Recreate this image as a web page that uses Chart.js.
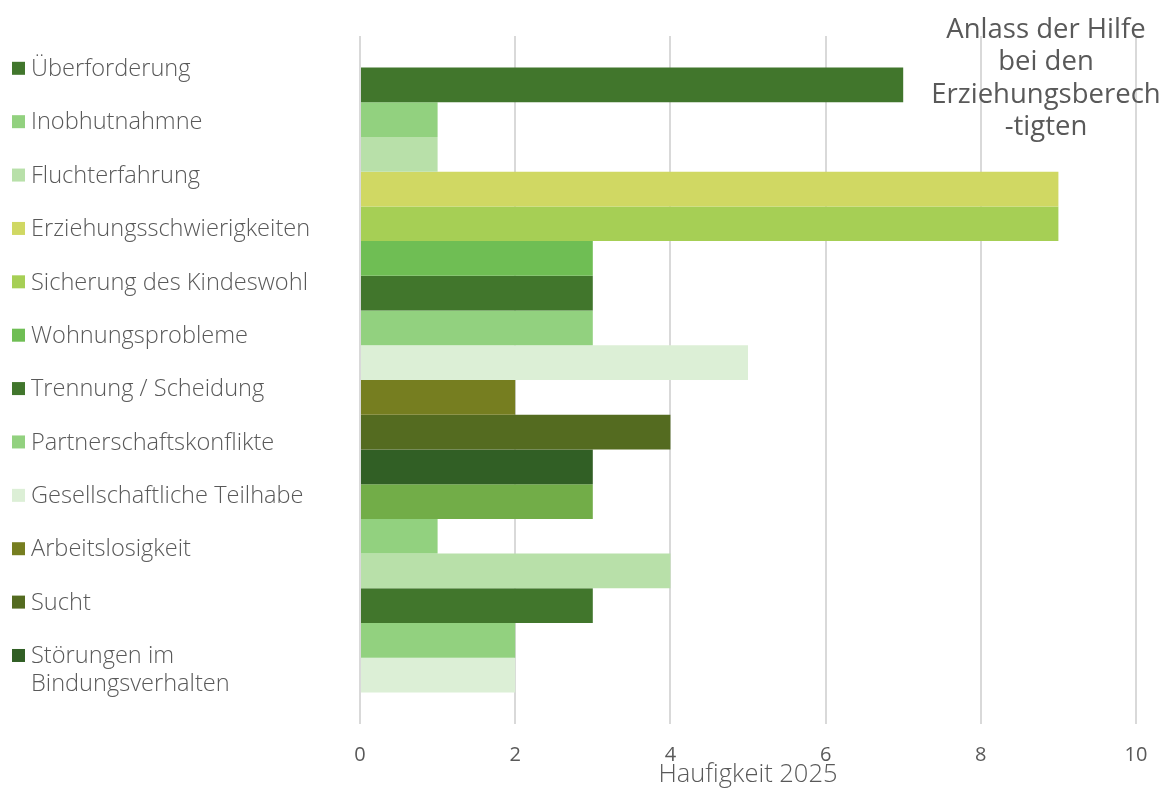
<!DOCTYPE html>
<html lang="de">
<head>
<meta charset="UTF-8">
<title>Anlass der Hilfe bei den Erziehungsberechtigten</title>
<script src="https://cdn.jsdelivr.net/npm/chart.js"></script>
<style>
  html, body { margin: 0; padding: 0; background: #fff; }
</style>
</head>
<body>
<canvas id="chart" width="1162" height="790"></canvas>
<script>
// Daten: ein Balken je Anlass, von oben nach unten
const seriesNames = [
  'Überforderung', 'Inobhutnahmne', 'Fluchterfahrung', 'Erziehungsschwierigkeiten',
  'Sicherung des Kindeswohl', 'Wohnungsprobleme', 'Trennung / Scheidung',
  'Partnerschaftskonflikte', 'Gesellschaftliche Teilhabe', 'Arbeitslosigkeit',
  'Sucht', 'Störungen im\nBindungsverhalten',
  '', '', '', '', '', ''
];
const counts = [7, 1, 1, 9, 9, 3, 3, 3, 5, 2, 4, 3, 3, 1, 4, 3, 2, 2];
const barColors = [
  '#41762c', '#92d17f', '#b8e0a9', '#d0d863', '#a6cf55', '#6fbe54',
  '#41762c', '#92d17f', '#dcefd6', '#767e20', '#546b20', '#315f25',
  '#72ad48', '#92d17f', '#b8e0a9', '#41762c', '#92d17f', '#dcefd6'
];
const xMin = 0, xMax = 10, xStep = 2;
const titleLines = ['Anlass der Hilfe', 'bei den', 'Erziehungsberech', '-tigten'];
const axisTitle = 'Haufigkeit 2025';

const FONT = "'Open Sans', sans-serif";
const TEXT = '#595959';

// Legende links (nur benannte Reihen)
const sideLegend = {
  id: 'sideLegend',
  afterDraw(chart) {
    const ctx = chart.ctx;
    ctx.save();
    ctx.font = '300 23.6px ' + FONT;
    ctx.textBaseline = 'middle';
    ctx.textAlign = 'left';
    chart.data.datasets.filter(d => d.label).forEach((d, i) => {
      const y = 68.3 + i * 53.38;
      ctx.fillStyle = d.backgroundColor;
      ctx.fillRect(12, y - 6.5, 13, 13);
      ctx.fillStyle = TEXT;
      d.label.split('\n').forEach((line, j) => ctx.fillText(line, 31, y + 1 + j * 28));
    });
    ctx.restore();
  }
};

// Titel oben rechts, über der Zeichenfläche
const cornerTitle = {
  id: 'cornerTitle',
  afterDraw(chart) {
    const ctx = chart.ctx;
    ctx.save();
    ctx.font = '27.5px ' + FONT;
    ctx.textAlign = 'center';
    ctx.textBaseline = 'middle';
    ctx.fillStyle = TEXT;
    titleLines.forEach((line, i) => ctx.fillText(line, 1046, 30 + i * 32.5));
    ctx.restore();
  }
};

new Chart(document.getElementById('chart'), {
  type: 'bar',
  data: {
    labels: [''],
    datasets: counts.map((v, i) => ({
      label: seriesNames[i],
      data: [v],
      backgroundColor: barColors[i],
      borderWidth: 0,
      categoryPercentage: 0.9084,
      barPercentage: 1
    }))
  },
  options: {
    indexAxis: 'y',
    responsive: false,
    animation: false,
    layout: { padding: { top: 36, left: 360, right: 26, bottom: 3 } },
    scales: {
      x: {
        min: xMin,
        max: xMax,
        afterFit(scale) { scale.height = 63; },
        ticks: { stepSize: xStep, color: TEXT, padding: 5, font: { family: FONT, size: 20, lineHeight: 1 } },
        grid: { color: '#d9d9d9', lineWidth: 2, drawTicks: true, tickLength: 16, tickColor: 'rgba(0,0,0,0)' },
        border: { display: false },
        title: {
          display: true,
          text: axisTitle,
          color: TEXT,
          padding: 0,
          font: { family: FONT, size: 25.5, weight: 300, lineHeight: 1 }
        }
      },
      y: { display: false }
    },
    plugins: {
      legend: { display: false },
      tooltip: { enabled: false }
    }
  },
  plugins: [sideLegend, cornerTitle]
});
</script>
</body>
</html>
